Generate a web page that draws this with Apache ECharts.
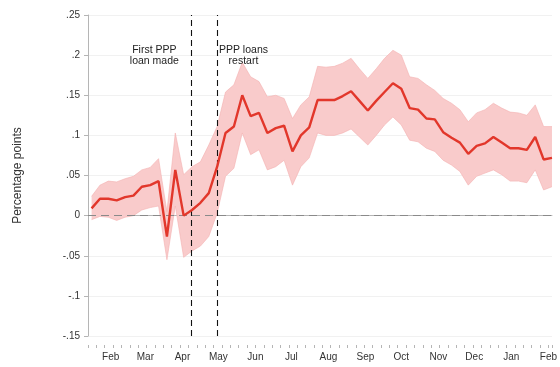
<!DOCTYPE html>
<html>
<head>
<meta charset="utf-8">
<script src="https://cdn.jsdelivr.net/npm/echarts@6/dist/echarts.min.js"></script>
<style>
  html, body { margin: 0; padding: 0; background: #fff; }
  #chart { width: 560px; height: 367px; }
</style>
</head>
<body>
<div id="chart"></div>
<script>
const DAY = 86400000;

// Weekly observations, first week of the sample
const firstWeek = Date.UTC(2020, 0, 16);

// Point estimates (percentage points)
const estimate = [
  0.009, 0.021, 0.021, 0.019, 0.023, 0.025, 0.036, 0.038, 0.043, -0.026,
  0.057, 0.000, 0.007, 0.016, 0.028, 0.061, 0.103, 0.111, 0.150, 0.124,
  0.128, 0.103, 0.109, 0.112, 0.080, 0.100, 0.110, 0.144, 0.144, 0.144,
  0.149, 0.155, 0.143, 0.131, 0.143, 0.154, 0.165, 0.158, 0.134, 0.132,
  0.121, 0.120, 0.104, 0.097, 0.091, 0.077, 0.087, 0.090, 0.098, 0.091,
  0.084, 0.084, 0.082, 0.098, 0.070, 0.072
];

// Upper bound of the confidence interval
const upper = [
  0.024, 0.038, 0.043, 0.042, 0.046, 0.049, 0.057, 0.060, 0.071, 0.005,
  0.103, 0.051, 0.061, 0.067, 0.088, 0.111, 0.154, 0.163, 0.191, 0.173,
  0.167, 0.148, 0.150, 0.146, 0.121, 0.138, 0.148, 0.186, 0.185, 0.186,
  0.190, 0.196, 0.183, 0.171, 0.183, 0.196, 0.206, 0.200, 0.173, 0.171,
  0.163, 0.156, 0.146, 0.140, 0.132, 0.117, 0.128, 0.132, 0.140, 0.134,
  0.129, 0.128, 0.125, 0.138, 0.111, 0.111
];

// Lower bound of the confidence interval
const lower = [
  -0.005, -0.001, -0.002, -0.006, -0.002, 0.000, 0.007, 0.010, 0.012, -0.055,
  0.012, -0.052, -0.044, -0.038, -0.026, 0.003, 0.049, 0.059, 0.103, 0.076,
  0.082, 0.057, 0.061, 0.069, 0.038, 0.061, 0.072, 0.103, 0.100, 0.100,
  0.103, 0.108, 0.098, 0.088, 0.100, 0.113, 0.123, 0.113, 0.094, 0.092,
  0.084, 0.080, 0.069, 0.063, 0.055, 0.038, 0.049, 0.053, 0.057, 0.051,
  0.043, 0.043, 0.041, 0.057, 0.032, 0.036
];

// Y-axis tick labels, from the bottom tick up
const yTickLabels = ['-.15', '-.1', '-.05', '0', '.05', '.1', '.15', '.2', '.25'];
const yMin = -0.15, yMax = 0.25, yStep = 0.05;

// Event markers
const firstLoanDate = Date.UTC(2020, 3, 8);
const restartDate = Date.UTC(2020, 3, 30);
const eventNotes = [
  { date: Date.UTC(2020, 2, 8, 12), value: 0.199, text: 'First PPP\nloan made' },
  { date: Date.UTC(2020, 4, 22), value: 0.199, text: 'PPP loans\nrestart' }
];

const weeks = estimate.map((_, i) => firstWeek + 7 * i * DAY);
const xMin = firstWeek - 3 * DAY;
const xMax = weeks[weeks.length - 1];
const spanDays = (xMax - xMin) / DAY;

const chart = echarts.init(document.getElementById('chart'), null, { renderer: 'canvas' });

chart.setOption({
  animation: false,
  backgroundColor: '#fff',
  textStyle: { fontFamily: '"Liberation Sans", Arial, Helvetica, sans-serif' },
  grid: { left: 88, right: 5, top: 15, bottom: 31, containLabel: false },
  xAxis: [
    {
      type: 'time',
      min: xMin,
      max: xMax,
      offset: 9,
      minInterval: 28 * DAY,
      maxInterval: 31 * DAY,
      axisLine: { show: true, lineStyle: { color: '#b5b5b5', width: 1 } },
      axisTick: { show: false },
      splitLine: { show: false },
      axisLabel: {
        formatter: '{MMM}',
        fontSize: 10,
        color: '#333',
        margin: 7,
        showMinLabel: false,
        showMaxLabel: false,
        hideOverlap: false
      }
    },
    {
      // weekly minor ticks along the date axis
      type: 'value',
      position: 'bottom',
      min: 0,
      max: spanDays,
      interval: 7,
      offset: 9,
      axisLine: { show: false },
      axisLabel: { show: false },
      splitLine: { show: false },
      axisTick: { show: true, length: 3, lineStyle: { color: '#b5b5b5', width: 1 } }
    }
  ],
  yAxis: {
    type: 'value',
    min: yMin,
    max: yMax,
    interval: yStep,
    name: 'Percentage points',
    nameLocation: 'middle',
    nameGap: 64,
    nameTextStyle: { fontSize: 12, color: '#333' },
    axisLine: { show: true, lineStyle: { color: '#b5b5b5', width: 1 } },
    axisTick: { show: true, length: 4, lineStyle: { color: '#b5b5b5' } },
    axisLabel: {
      fontSize: 10,
      color: '#333',
      margin: 8,
      formatter: v => yTickLabels[Math.round((v - yMin) / yStep)]
    },
    splitLine: { show: true, lineStyle: { color: '#f1f1f1', width: 1 } }
  },
  series: [
    {
      name: 'lower',
      type: 'line',
      stack: 'ci',
      stackStrategy: 'all',
      symbol: 'none',
      silent: true,
      z: 1,
      lineStyle: { color: '#f3b0b0', width: 0.6 },
      data: weeks.map((t, i) => [t, lower[i]])
    },
    {
      name: 'band',
      type: 'line',
      stack: 'ci',
      stackStrategy: 'all',
      symbol: 'none',
      silent: true,
      z: 1,
      lineStyle: { color: '#f3b0b0', width: 0.6 },
      areaStyle: { color: '#f9cbcb', opacity: 1 },
      data: weeks.map((t, i) => [t, upper[i] - lower[i]])
    },
    {
      name: 'estimate',
      type: 'line',
      symbol: 'none',
      z: 3,
      lineStyle: { color: '#e2372b', width: 2.4 },
      data: weeks.map((t, i) => [t, estimate[i]]),
      markLine: {
        silent: true,
        symbol: 'none',
        label: { show: false },
        z: 2,
        data: [
          { yAxis: 0, lineStyle: { color: '#8a8a8a', type: [8, 5], width: 1 } },
          { xAxis: firstLoanDate, lineStyle: { color: '#111', type: [6, 4], width: 1.1 } },
          { xAxis: restartDate, lineStyle: { color: '#111', type: [6, 4], width: 1.1 } }
        ]
      },
      markPoint: {
        silent: true,
        symbol: 'circle',
        symbolSize: 1,
        itemStyle: { color: 'rgba(0,0,0,0)' },
        data: eventNotes.map(n => ({
          coord: [n.date, n.value],
          label: {
            show: true,
            position: 'inside',
            formatter: n.text,
            fontSize: 10.5,
            lineHeight: 11,
            color: '#222',
            align: 'center',
            verticalAlign: 'middle'
          }
        }))
      }
    }
  ]
});
</script>
</body>
</html>
